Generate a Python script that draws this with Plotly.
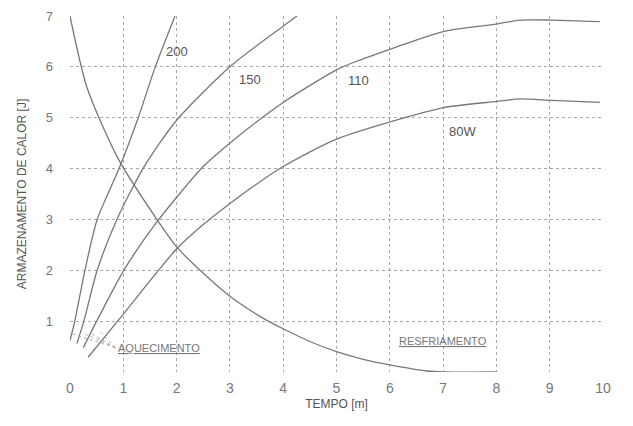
import plotly.graph_objects as go

# Heating curves (x = tempo [m], y = armazenamento de calor [J])
x_200 = [0.0, 0.09, 0.28, 0.51, 0.92, 1.28, 1.6, 1.97]
y_200 = [0.62, 1.0, 2.0, 3.0, 4.0, 5.0, 6.0, 7.0]

x_150 = [0.13, 0.26, 0.51, 0.88, 1.37, 2.0, 3.02, 4.0, 4.26]
y_150 = [0.56, 1.0, 2.0, 3.0, 4.0, 4.95, 6.02, 6.8, 7.0]

x_110 = [0.25, 0.5, 1.01, 1.63, 2.5, 3.02, 4.0, 5.0, 5.35, 6.04, 7.02, 8.0, 8.44, 9.04, 9.94]
y_110 = [0.48, 1.0, 2.0, 2.95, 4.04, 4.52, 5.3, 5.94, 6.1, 6.36, 6.7, 6.84, 6.92, 6.92, 6.89]

x_80 = [0.34, 0.97, 2.0, 2.5, 3.02, 4.0, 5.0, 6.04, 7.02, 8.0, 8.44, 9.04, 9.94]
y_80 = [0.29, 1.1, 2.42, 2.9, 3.33, 4.04, 4.58, 4.93, 5.2, 5.32, 5.37, 5.34, 5.3]

# Cooling curve
x_cool = [0.0, 0.32, 0.9, 1.63, 2.0, 2.44, 3.0, 3.62, 4.0, 4.5, 5.0, 5.5, 6.0, 6.7, 7.0, 8.0]
y_cool = [7.0, 5.59, 4.2, 3.0, 2.46, 2.0, 1.49, 1.06, 0.85, 0.6, 0.4, 0.25, 0.14, 0.02, 0.0, 0.0]

# Leader lines from the "AQUECIMENTO" label to the curve starts
leader_from = (0.85, 0.48)
leader_x = [0.04, 0.23, 0.41, 0.55]
leader_y = [0.75, 0.77, 0.75, 0.81]

# Curve labels
lbl_text = ["200", "150", "110", "80W"]
lbl_x = [2.0, 3.38, 5.42, 7.37]
lbl_y = [6.3, 5.76, 5.74, 4.72]

x_ticks = list(range(0, 11))
y_ticks = [1, 2, 3, 4, 5, 6, 7]

line_col = "#787878"
grid_col = "#a8a8a8"

fig = go.Figure()
for xs, ys in [(x_200, y_200), (x_150, y_150), (x_110, y_110), (x_80, y_80), (x_cool, y_cool)]:
    fig.add_trace(go.Scatter(x=xs, y=ys, mode="lines",
                             line=dict(color=line_col, width=1.3, shape="spline", smoothing=0.7),
                             showlegend=False, hoverinfo="skip"))

for lx, ly in zip(leader_x, leader_y):
    fig.add_trace(go.Scatter(x=[leader_from[0], lx], y=[leader_from[1], ly], mode="lines",
                             line=dict(color="#b0b0b0", width=1, dash="dot"),
                             showlegend=False, hoverinfo="skip"))

for t, lx, ly in zip(lbl_text, lbl_x, lbl_y):
    fig.add_annotation(x=lx, y=ly, text=t, showarrow=False,
                       font=dict(family="Liberation Sans, Arial", size=13, color="#555555"))

fig.add_annotation(x=0.86, y=0.48, text="<u>AQUECIMENTO</u>", showarrow=False, xanchor="left",
                   font=dict(family="Liberation Sans, Arial", size=11, color="#777777"))
fig.add_annotation(x=7.0, y=0.6, text="<u>RESFRIAMENTO</u>", showarrow=False,
                   font=dict(family="Liberation Sans, Arial", size=11, color="#777777"))

fig.update_layout(
    width=617, height=410,
    margin=dict(l=62, r=22, t=8, b=46),
    paper_bgcolor="white", plot_bgcolor="white",
    font=dict(family="Liberation Sans, Arial", color="#666666"),
)
fig.update_xaxes(range=[0, 10], tickvals=x_ticks, ticktext=[str(v) for v in x_ticks],
                 showgrid=True, gridcolor=grid_col, griddash="dot", gridwidth=1,
                 zeroline=False, showline=False, ticks="", ticklabelstandoff=6,
                 ticklabeloverflow="allow", automargin=False,
                 tickfont=dict(size=14, color="#777777"),
                 title=dict(text="TEMPO [m]", font=dict(size=12, color="#555555"), standoff=4))
fig.update_yaxes(range=[0, 7], tickvals=y_ticks, ticktext=[str(v) for v in y_ticks],
                 showgrid=True, gridcolor=grid_col, griddash="dot", gridwidth=1,
                 zeroline=False, showline=False, ticks="", ticklabelstandoff=16,
                 ticklabeloverflow="allow", automargin=False,
                 tickfont=dict(size=13, color="#777777"),
                 title=dict(text="ARMAZENAMENTO DE CALOR [J]", font=dict(size=12, color="#555555"), standoff=16))

fig.write_html("out.html")
